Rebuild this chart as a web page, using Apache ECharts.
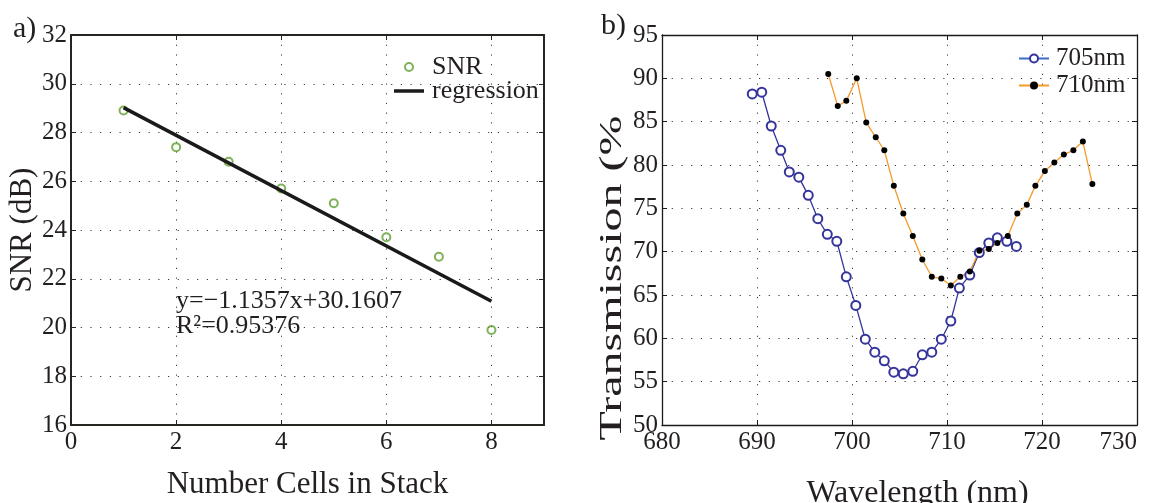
<!DOCTYPE html>
<html>
<head>
<meta charset="utf-8">
<script src="https://cdn.jsdelivr.net/npm/echarts@6/dist/echarts.min.js"></script>
<style>
html, body { margin: 0; padding: 0; background: #fff; }
#chart { width: 1152px; height: 503px; }
</style>
</head>
<body>
<div id="chart"></div>
<script>
// panel a) SNR vs number of cells
var snrCells = [1, 2, 3, 4, 5, 6, 7, 8];
var snrValues = [28.9, 27.4, 26.8, 25.7, 25.1, 23.7, 22.9, 19.9];
var regressionX = [1, 8];
var regressionY = [29.02, 21.08];
var fitText = ['y=\u22121.1357x+30.1607', 'R\u00b2=0.95376'];

// panel b) transmission spectra
var wl705 = [689.5, 690.5, 691.5, 692.5, 693.4, 694.4, 695.4, 696.4, 697.4, 698.4,
    699.4, 700.4, 701.4, 702.4, 703.4, 704.4, 705.4, 706.4, 707.4, 708.4,
    709.4, 710.4, 711.3, 712.4, 713.4, 714.4, 715.3, 716.3, 717.3];
var tr705 = [88.2, 88.4, 84.5, 81.7, 79.2, 78.6, 76.5, 73.8, 72.0, 71.2,
    67.1, 63.8, 59.9, 58.4, 57.4, 56.1, 55.9, 56.2, 58.1, 58.4,
    59.9, 62.0, 65.8, 67.3, 69.9, 71.0, 71.6, 71.2, 70.6];
var wl710 = [697.5, 698.5, 699.4, 700.5, 701.5, 702.5, 703.4, 704.4, 705.4, 706.4,
    707.4, 708.4, 709.4, 710.4, 711.4, 712.4, 713.4, 714.4, 715.3, 716.4,
    717.4, 718.4, 719.3, 720.3, 721.3, 722.3, 723.3, 724.3, 725.3];
var tr710 = [90.5, 86.8, 87.4, 90.0, 84.9, 83.2, 81.7, 77.6, 74.4, 71.8,
    69.1, 67.1, 66.9, 66.1, 67.1, 67.7, 70.1, 70.3, 71.0, 71.8,
    74.4, 75.4, 77.6, 79.3, 80.3, 81.2, 81.7, 82.7, 77.8];

function zip(xs, ys) {
    var out = [];
    for (var i = 0; i < xs.length; i++) {
        out.push([xs[i], ys[i]]);
    }
    return out;
}

var serif = "'Liberation Serif', 'DejaVu Serif', serif";
var ink = '#231f20';
var green = '#5e9e2f';
var blue = '#34349a';
var orange = '#f39a2b';

var dotted = {
    show: true,
    lineStyle: { color: '#3a3a3a', width: 1, type: [1.2, 8.5] }
};

function axis(gridIndex, position, min, max, interval, frameColor, frameWidth, withLabels) {
    return {
        type: 'value',
        gridIndex: gridIndex,
        position: position,
        min: min,
        max: max,
        interval: interval,
        axisLine: { show: true, onZero: false, lineStyle: { color: frameColor, width: frameWidth } },
        axisTick: { show: true, inside: true, length: 5, lineStyle: { color: frameColor, width: 1 } },
        axisLabel: {
            show: withLabels,
            color: ink,
            fontFamily: serif,
            fontSize: 25,
            margin: (position === 'bottom') ? 5 : 4
        },
        splitLine: withLabels ? dotted : { show: false }
    };
}

// left panel axes
var axA_x = axis(0, 'bottom', 0, 9, 2, '#262620', 2, true);
axA_x.axisLabel.showMaxLabel = false;
axA_x.name = 'Number Cells in Stack';
axA_x.nameLocation = 'middle';
axA_x.nameGap = 44;
axA_x.nameTextStyle = { color: ink, fontFamily: serif, fontSize: 31 };
var axA_xTop = axis(0, 'top', 0, 9, 2, '#262620', 2, false);

var axA_y = axis(0, 'left', 16, 32, 2, '#262620', 2, true);
axA_y.name = 'SNR (dB)';
axA_y.nameLocation = 'middle';
axA_y.nameGap = 29;
axA_y.nameTextStyle = { color: ink, fontFamily: serif, fontSize: 31 };
var axA_yRight = axis(0, 'right', 16, 32, 2, '#262620', 2, false);

// right panel axes
var axB_x = axis(1, 'bottom', 680, 730, 10, '#1a1a1a', 1.3, true);
axB_x.axisLabel.alignMaxLabel = 'right';
axB_x.name = 'Wavelength (nm)';
axB_x.nameLocation = 'middle';
axB_x.nameGap = 53;
axB_x.nameTextStyle = { color: ink, fontFamily: serif, fontSize: 32, padding: [0, 0, 0, 36] };
var axB_xTop = axis(1, 'top', 680, 730, 10, '#1a1a1a', 1.3, false);

var axB_y = axis(1, 'left', 50, 95, 5, '#1a1a1a', 1.3, true);
var axB_yRight = axis(1, 'right', 50, 95, 5, '#1a1a1a', 1.3, false);

var chart = echarts.init(document.getElementById('chart'));

var option = {
    animation: false,
    backgroundColor: '#fff',
    textStyle: { fontFamily: serif },
    grid: [
        { left: 71, top: 35, width: 473, height: 390, outerBoundsMode: 'none', containLabel: false },
        { left: 662, top: 35, width: 475, height: 390, outerBoundsMode: 'none', containLabel: false }
    ],
    xAxis: [axA_x, axA_xTop, axB_x, axB_xTop],
    yAxis: [axA_y, axA_yRight, axB_y, axB_yRight],
    legend: [
        {
            left: 389,
            top: 49,
            orient: 'vertical',
            itemWidth: 30,
            itemHeight: 8,
            itemGap: -2,
            textStyle: { color: ink, fontFamily: serif, fontSize: 26, padding: [0, 0, 0, 3] },
            data: [
                { name: 'SNR', icon: 'circle', itemStyle: { color: 'rgba(0,0,0,0)', borderColor: green, borderWidth: 2 } },
                { name: 'regression', icon: 'path://M0,0L30,0L30,3.5L0,3.5Z', itemStyle: { color: '#1a1a1a', borderWidth: 0 } }
            ]
        },
        {
            left: 1013,
            top: 41,
            orient: 'vertical',
            itemWidth: 30,
            itemHeight: 10,
            itemGap: 2,
            textStyle: { color: ink, fontFamily: serif, fontSize: 25, padding: [0, 0, 0, 2] },
            data: [
                { name: '705nm', lineStyle: { color: '#3a6dc6' }, itemStyle: { borderColor: '#1e5fbf' } },
                { name: '710nm' }
            ]
        }
    ],
    graphic: [
        {
            type: 'text', left: 13, top: 14,
            style: { text: 'a)', fill: ink, font: '30px ' + serif }
        },
        {
            type: 'text', left: 601, top: 11,
            style: { text: 'b)', fill: ink, font: '30px ' + serif }
        },
        {
            type: 'text', left: 176, top: 288,
            style: { text: fitText[0], fill: ink, font: '26px ' + serif }
        },
        {
            type: 'text', left: 176, top: 313,
            style: { text: fitText[1], fill: ink, font: '26px ' + serif }
        },
        {
            // stretched along its length, as in the figure
            type: 'text', x: 613, y: 278, rotation: Math.PI / 2, scaleX: 1.5,
            style: {
                text: 'Transmission (%', fill: ink, font: '32px ' + serif,
                textAlign: 'center', textVerticalAlign: 'middle',
                align: 'center', verticalAlign: 'middle'
            }
        }
    ],
    series: [
        {
            name: 'SNR',
            type: 'scatter',
            xAxisIndex: 0,
            yAxisIndex: 0,
            symbol: 'circle',
            symbolSize: 8,
            itemStyle: { color: 'rgba(0,0,0,0)', borderColor: green, borderWidth: 2 },
            data: zip(snrCells, snrValues)
        },
        {
            name: 'regression',
            type: 'line',
            xAxisIndex: 0,
            yAxisIndex: 0,
            symbol: 'none',
            itemStyle: { color: '#1a1a1a' },
            lineStyle: { color: '#1a1a1a', width: 3.5 },
            data: zip(regressionX, regressionY)
        },
        {
            name: '705nm',
            type: 'line',
            xAxisIndex: 2,
            yAxisIndex: 2,
            symbol: 'emptyCircle',
            symbolSize: 9,
            showSymbol: true,
            itemStyle: { color: blue, borderColor: blue, borderWidth: 1.2 },
            lineStyle: { color: blue, width: 1.3 },
            data: zip(wl705, tr705)
        },
        {
            name: '710nm',
            type: 'line',
            xAxisIndex: 2,
            yAxisIndex: 2,
            symbol: 'circle',
            symbolSize: 6,
            showSymbol: true,
            itemStyle: { color: '#000' },
            lineStyle: { color: orange, width: 1.3 },
            data: zip(wl710, tr710)
        }
    ]
};
chart.setOption(option);
</script>
</body>
</html>
